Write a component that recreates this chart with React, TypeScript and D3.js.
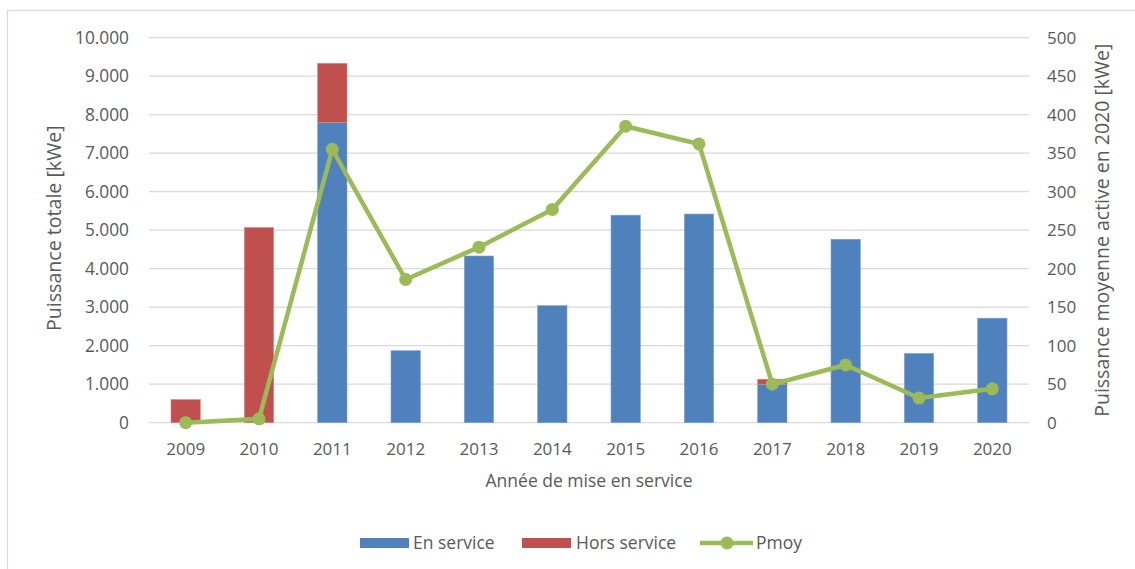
import React from "react";
import * as d3 from "d3";

const years = ["2009","2010","2011","2012","2013","2014","2015","2016","2017","2018","2019","2020"];
const enService = [0, 0, 7800, 1870, 4330, 3040, 5390, 5420, 1000, 4765, 1800, 2715];
const horsService = [600, 5070, 1535, 0, 0, 0, 0, 0, 130, 0, 0, 0];
const pmoy = [0, 5, 355, 186, 228, 277, 385, 362, 50, 75, 32, 44];
const leftTicks = [0,1000,2000,3000,4000,5000,6000,7000,8000,9000,10000];
const rightTicks = [0,50,100,150,200,250,300,350,400,450,500];

const W = 1135, H = 569;
const M = { left: 149, right: 1029, top: 37.7, bottom: 422.7 };
const FONT = "'Open Sans', sans-serif";
const TXT = "#595959";
const BLUE = "#4F81BD", RED = "#C0504D", GREEN = "#9BBB59";

const fmt = (v: number) => v === 0 ? "0" : d3.format(",")(v).replace(/,/g, ".");

export default function App() {
  const x = d3.scaleBand<string>().domain(years).range([M.left, M.right]).paddingInner(0.6).paddingOuter(0.3);
  const xc = (y: string) => (x(y) as number) + x.bandwidth() / 2;
  const yL = d3.scaleLinear().domain([0, 10000]).range([M.bottom, M.top]);
  const yR = d3.scaleLinear().domain([0, 500]).range([M.bottom, M.top]);
  const line = d3.line<number>().x((_, i) => xc(years[i])).y(d => yR(d));
  const bw = x.bandwidth();

  return (
    <svg width={W} height={H} style={{ position: "absolute", left: 0, top: 0, fontFamily: FONT }}>
      <rect x={0} y={0} width={W} height={H} fill="#fff" />
      <rect x={7.5} y={10.5} width={W + 10} height={H + 10} fill="none" stroke="#d9d9d9" strokeWidth={1.2} />
      {leftTicks.map(t => (
        <line key={t} x1={M.left} x2={M.right} y1={yL(t)} y2={yL(t)} stroke="#d9d9d9" strokeWidth={1.3} />
      ))}
      {years.map((yr, i) => (
        <g key={yr}>
          {enService[i] > 0 && (
            <rect x={x(yr)} y={yL(enService[i])} width={bw} height={yL(0) - yL(enService[i])} fill={BLUE} stroke="#7fa3d3" strokeWidth={0.6} />
          )}
          {horsService[i] > 0 && (
            <rect x={x(yr)} y={yL(enService[i] + horsService[i])} width={bw} height={yL(enService[i]) - yL(enService[i] + horsService[i])} fill={RED} stroke="#d88a88" strokeWidth={0.6} />
          )}
        </g>
      ))}
      <path d={line(pmoy) as string} fill="none" stroke={GREEN} strokeWidth={4.5} strokeLinejoin="round" />
      {pmoy.map((v, i) => (
        <circle key={i} cx={xc(years[i])} cy={yR(v)} r={6.5} fill={GREEN} />
      ))}
      {leftTicks.map(t => (
        <text key={t} x={129} y={yL(t)} dy="0.35em" textAnchor="end" fontSize={17.3} fill={TXT}>{fmt(t)}</text>
      ))}
      {rightTicks.map(t => (
        <text key={t} x={1047} y={yR(t)} dy="0.35em" textAnchor="start" fontSize={17} fill={TXT}>{t}</text>
      ))}
      {years.map(yr => (
        <text key={yr} x={xc(yr)} y={449} dy="0.35em" textAnchor="middle" fontSize={17} fill={TXT}>{yr}</text>
      ))}
      <text x={(M.left + M.right) / 2} y={481} dy="0.35em" textAnchor="middle" fontSize={17.5} fill={TXT}>Année de mise en service</text>
      <text transform={`translate(54,${(M.top + M.bottom) / 2 - 2}) rotate(-90)`} dy="0.35em" textAnchor="middle" fontSize={19.6} fill={TXT}>Puissance totale [kWe]</text>
      <text transform={`translate(1102,${(M.top + M.bottom) / 2}) rotate(-90)`} dy="0.35em" textAnchor="middle" fontSize={19.5} fill={TXT}>Puissance moyenne active en 2020 [kWe]</text>
      <g>
        <rect x={360} y={538} width={49} height={10} fill={BLUE} />
        <text x={413} y={543} dy="0.35em" fontSize={17.5} fill={TXT}>En service</text>
        <rect x={522} y={538} width={49} height={10} fill={RED} />
        <text x={576} y={543} dy="0.35em" fontSize={17.5} fill={TXT}>Hors service</text>
        <line x1={700} x2={753} y1={543} y2={543} stroke={GREEN} strokeWidth={4.5} />
        <circle cx={727} cy={543} r={6.5} fill={GREEN} />
        <text x={756} y={543} dy="0.35em" fontSize={17.5} fill={TXT}>Pmoy</text>
      </g>
    </svg>
  );
}
